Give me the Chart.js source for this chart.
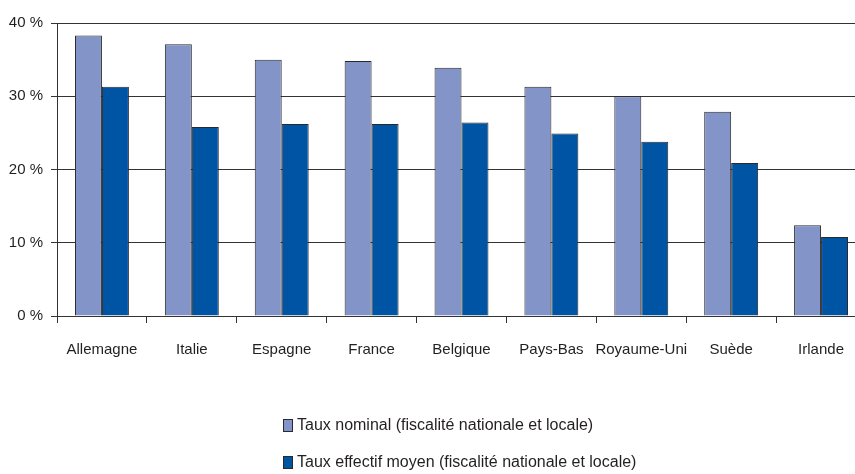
<!DOCTYPE html>
<html>
<head>
<meta charset="utf-8">
<script src="https://cdn.jsdelivr.net/npm/chart.js@4/dist/chart.umd.min.js"></script>
<style>
  html, body { margin: 0; padding: 0; background: #fff; overflow: hidden; }
  #wrap { width: 855px; height: 474px; overflow: hidden; }
</style>
</head>
<body>
<!-- plot runs a little past the right edge in the original, so the canvas is wider than the window -->
<div id="wrap"><canvas id="taxChart" width="866" height="474"></canvas></div>
<script>
const countries = ['Allemagne', 'Italie', 'Espagne', 'France', 'Belgique', 'Pays-Bas', 'Royaume-Uni', 'Suède', 'Irlande'];
const nominalRate = [38.3, 37.1, 35.0, 34.8, 33.9, 31.3, 30.0, 27.9, 12.4];
const effectiveRate = [31.3, 25.8, 26.2, 26.2, 26.4, 24.9, 23.8, 20.9, 10.8];
const seriesLabels = ['Taux nominal (fiscalité nationale et locale)', 'Taux effectif moyen (fiscalité nationale et locale)'];
const yTicks = [0, 10, 20, 30, 40];

const FONT = '"Liberation Sans", Arial, sans-serif';
const TEXT = '#231f20';
const LINE = '#333';

// legend drawn in a column under the chart, like the original
const stackedLegend = {
    id: 'stackedLegend',
    afterDraw(chart) {
        const { ctx } = chart;
        ctx.save();
        ctx.font = '16px ' + FONT;
        ctx.textBaseline = 'middle';
        ctx.lineWidth = 1;
        chart.data.datasets.forEach((ds, i) => {
            const y = 426 + i * 37;
            ctx.fillStyle = ds.backgroundColor;
            ctx.fillRect(283.5, y - 6.5, 9, 12);
            ctx.strokeStyle = ds.borderColor;
            ctx.strokeRect(283.5, y - 6.5, 9, 12);
            ctx.fillStyle = TEXT;
            ctx.fillText(ds.label, 297, y);
        });
        ctx.restore();
    }
};

const ctx = document.getElementById('taxChart').getContext('2d');
new Chart(ctx, {
    type: 'bar',
    data: {
        labels: countries,
        datasets: [{
            label: seriesLabels[0],
            data: nominalRate,
            backgroundColor: '#8395c8',
            borderColor: '#2a2a2a',
            borderWidth: 1
        }, {
            label: seriesLabels[1],
            data: effectiveRate,
            backgroundColor: '#0054a4',
            borderColor: '#2a2a2a',
            borderWidth: 1
        }]
    },
    options: {
        responsive: false,
        animation: false,
        events: [],
        layout: { padding: { top: 23, right: 0, bottom: 0, left: 0 } },
        categoryPercentage: 0.6,
        barPercentage: 1.0,
        plugins: {
            legend: { display: false },
            tooltip: { enabled: false }
        },
        scales: {
            x: {
                grid: { drawOnChartArea: false, color: LINE, tickLength: 7, offset: true },
                border: { color: LINE, width: 1 },
                ticks: { color: TEXT, font: { family: FONT, size: 15 }, padding: 18, maxRotation: 0, autoSkip: false },
                afterFit: scale => { scale.height = 474 - 316; }
            },
            y: {
                min: 0,
                max: 40,
                afterBuildTicks: scale => { scale.ticks = yTicks.map(v => ({ value: v })); },
                grid: { color: LINE, tickLength: 6 },
                border: { color: LINE, width: 1 },
                ticks: {
                    color: TEXT,
                    font: { family: FONT, size: 15 },
                    padding: 8,
                    callback: v => v + ' %'
                },
                afterFit: scale => { scale.width = 57; }
            }
        }
    },
    plugins: [stackedLegend]
});
</script>
</body>
</html>
